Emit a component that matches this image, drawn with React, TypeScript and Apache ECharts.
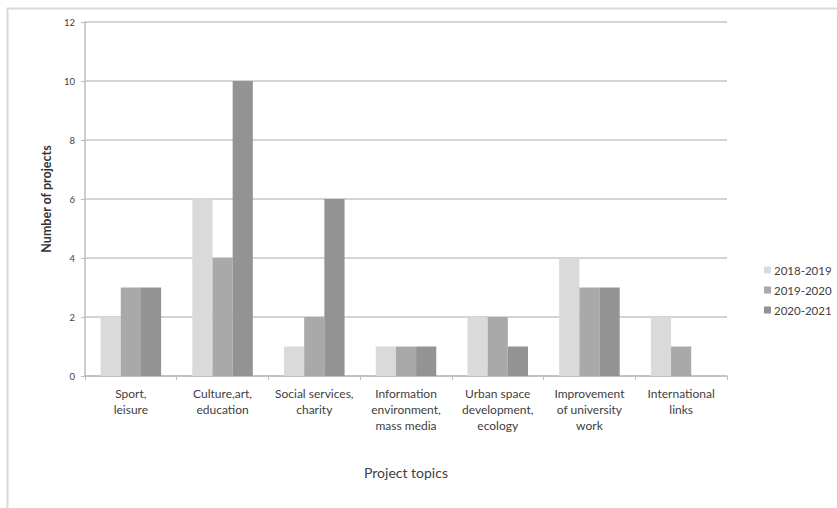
import React, { useEffect, useRef } from "react";
import * as echarts from "echarts";

const categories = [
  "Sport,\nleisure",
  "Culture,art,\neducation",
  "Social services,\ncharity",
  "Information\nenvironment,\nmass media",
  "Urban space\ndevelopment,\necology",
  "Improvement\nof university\nwork",
  "International\nlinks",
];
const seriesNames = ["2018-2019", "2019-2020", "2020-2021"];
const values2018 = [2, 6, 1, 1, 2, 4, 2];
const values2019 = [3, 4, 2, 1, 2, 3, 1];
const values2020 = [3, 10, 6, 1, 1, 3, 0];
const colors = ["#dadada", "#a9a9a9", "#939393"];

const FONT = "Lato, 'Open Sans', sans-serif";

export default function App() {
  const ref = useRef<HTMLDivElement>(null);

  useEffect(() => {
    if (!ref.current) return;
    const chart = echarts.init(ref.current, undefined, { renderer: "svg" });
    const data = [values2018, values2019, values2020];
    chart.setOption({
      animation: false,
      backgroundColor: "#ffffff",
      textStyle: { fontFamily: FONT },
      graphic: [
        {
          type: "rect",
          shape: { x: 7.5, y: 8.5, width: 860, height: 520 },
          style: { fill: "none", stroke: "#d9d9d9", lineWidth: 2 },
          silent: true,
        },
      ],
      grid: { left: 85, right: 110, top: 22, bottom: 132 },
      legend: {
        orient: "vertical",
        left: 759,
        top: 259,
        itemWidth: 7,
        itemHeight: 7,
        itemGap: 8,
        icon: "rect",
        textStyle: { fontSize: 11.5, color: "#404040", fontFamily: FONT, padding: [0, 0, 0, -2] },
        data: seriesNames,
      },
      xAxis: {
        type: "category",
        data: categories,
        name: "Project topics",
        nameLocation: "middle",
        nameGap: 89,
        nameTextStyle: { fontSize: 14, color: "#404040", fontFamily: FONT },
        axisLine: { lineStyle: { color: "#bdbdbd", width: 1.5 } },
        axisTick: { show: true, alignWithLabel: false, length: 4, lineStyle: { color: "#bdbdbd" } },
        axisLabel: {
          interval: 0,
          fontSize: 12,
          lineHeight: 16,
          color: "#404040",
          margin: 9,
          fontFamily: FONT,
        },
      },
      yAxis: {
        type: "value",
        min: 0,
        max: 12,
        interval: 2,
        name: "Number of projects",
        nameLocation: "middle",
        nameGap: 31,
        nameTextStyle: { fontSize: 12.5, fontWeight: "bold", color: "#333", fontFamily: FONT },
        axisLine: { show: true, lineStyle: { color: "#bdbdbd", width: 1.5 } },
        axisTick: { show: true, length: 4, lineStyle: { color: "#bdbdbd" } },
        axisLabel: { fontSize: 9.5, color: "#404040", margin: 10, fontFamily: FONT },
        splitLine: { lineStyle: { color: "#c6c6c6", width: 1.5 } },
      },
      series: seriesNames.map((name, i) => ({
        name,
        type: "bar",
        data: data[i],
        barGap: "0%",
        barCategoryGap: "34%",
        itemStyle: { color: colors[i] },
      })),
    });
    return () => chart.dispose();
  }, []);

  return (
    <div
      ref={ref}
      style={{ position: "absolute", left: 0, top: 0, width: 837, height: 508 }}
    />
  );
}
